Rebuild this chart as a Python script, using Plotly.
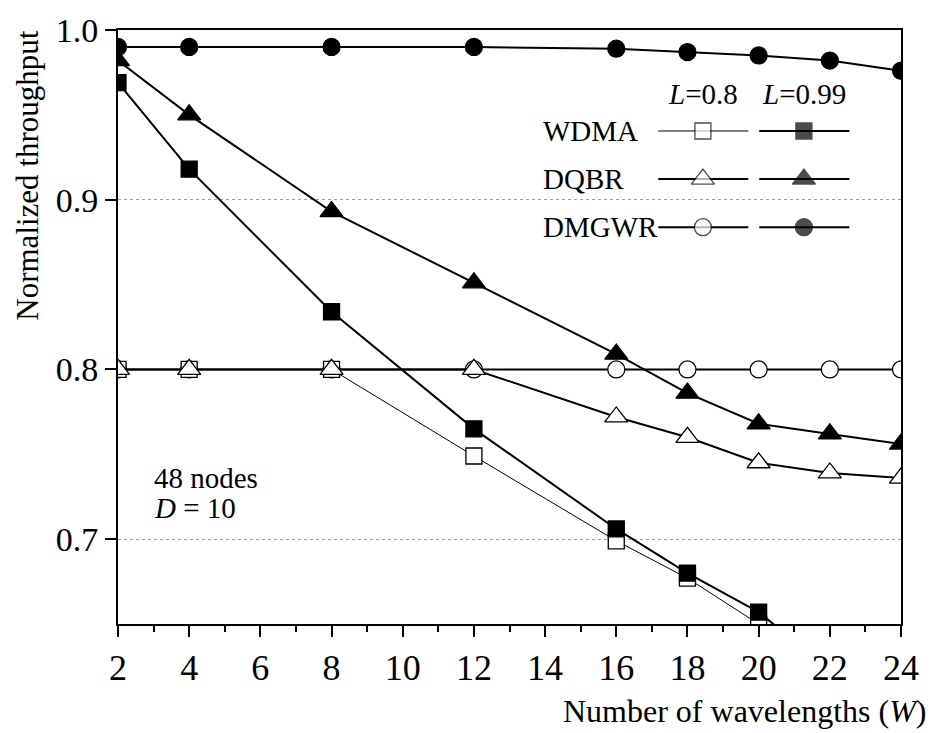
import plotly.graph_objects as go

# ---- data ----
W = [2, 4, 8, 12, 16, 18, 20, 22, 24]
wdma_08 = [0.800, 0.800, 0.800, 0.749, 0.699, 0.677, 0.650, 0.622, 0.595]
wdma_099 = [0.969, 0.918, 0.834, 0.765, 0.706, 0.680, 0.657, 0.623, 0.596]
dqbr_08 = [0.800, 0.800, 0.800, 0.800, 0.772, 0.760, 0.745, 0.739, 0.736]
dqbr_099 = [0.982, 0.950, 0.893, 0.851, 0.809, 0.786, 0.768, 0.762, 0.756]
dmgwr_08 = [0.800, 0.800, 0.800, 0.800, 0.800, 0.800, 0.800, 0.800, 0.800]
dmgwr_099 = [0.990, 0.990, 0.990, 0.990, 0.989, 0.987, 0.985, 0.982, 0.976]

x_ticks = [2, 4, 6, 8, 10, 12, 14, 16, 18, 20, 22, 24]
y_ticks = [0.7, 0.8, 0.9, 1.0]

legend_names = ["WDMA", "DQBR", "DMGWR"]
legend_headers = ["0.8", "0.99"]

FONT = "Liberation Serif"
BLACK = "black"

fig = go.Figure()

def series(y, symbol, filled, width, size):
    return go.Scatter(
        x=W, y=y, mode="lines+markers", showlegend=False,
        line=dict(color=BLACK, width=width),
        marker=dict(symbol=symbol, size=size,
                    color=BLACK if filled else "white",
                    line=dict(color=BLACK, width=1.3)),
    )

SZ = {"square": 16, "triangle-up": 20, "circle": 17}

# open markers (L=0.8)
fig.add_trace(series(dmgwr_08, "circle", False, 2, SZ["circle"]))
fig.add_trace(series(wdma_08, "square", False, 1, SZ["square"]))
fig.add_trace(series(dqbr_08, "triangle-up", False, 2, SZ["triangle-up"]))
# filled markers (L=0.99)
fig.add_trace(series(dmgwr_099, "circle", True, 2, SZ["circle"]))
fig.add_trace(series(dqbr_099, "triangle-up", True, 2, SZ["triangle-up"]))
fig.add_trace(series(wdma_099, "square", True, 2, SZ["square"]))

# ---- custom legend on overlay axes (0..1 over plot area) ----
leg_rows = [0.830, 0.749, 0.668]
col_open = [0.690, 0.747, 0.805]
col_fill = [0.819, 0.876, 0.934]
syms = ["square", "triangle-up", "circle"]
open_w = [1, 2, 2]
for i, name in enumerate(legend_names):
    yy = leg_rows[i]
    s = SZ[syms[i]]
    fig.add_trace(go.Scatter(
        x=col_open, y=[yy] * 3, xaxis="x2", yaxis="y2", mode="lines+markers",
        showlegend=False, line=dict(color=BLACK, width=open_w[i]),
        marker=dict(symbol=syms[i], size=[0, s, 0], color="white",
                    line=dict(color=BLACK, width=[0, 1.3, 0]))))
    fig.add_trace(go.Scatter(
        x=col_fill, y=[yy] * 3, xaxis="x2", yaxis="y2", mode="lines+markers",
        showlegend=False, line=dict(color=BLACK, width=2),
        marker=dict(symbol=syms[i], size=[0, s, 0], color=BLACK,
                    line=dict(color=BLACK, width=[0, 1.3, 0]))))
    fig.add_annotation(x=0.540, y=yy, xref="x2", yref="y2", text=name,
                       showarrow=False, xanchor="left", yanchor="middle",
                       font=dict(family=FONT, size=29, color=BLACK))

for cx, h in zip([col_open[1], col_fill[1]], legend_headers):
    fig.add_annotation(x=cx, y=0.893, xref="x2", yref="y2",
                       text="<i>L</i>=" + h, showarrow=False,
                       xanchor="center", yanchor="middle",
                       font=dict(family=FONT, size=29, color=BLACK))

fig.add_annotation(x=0.043, y=0.245, xref="x2", yref="y2", text="48 nodes",
                   showarrow=False, xanchor="left", yanchor="middle",
                   font=dict(family=FONT, size=29, color=BLACK))
fig.add_annotation(x=0.043, y=0.195, xref="x2", yref="y2", text="<i>D</i> = 10",
                   showarrow=False, xanchor="left", yanchor="middle",
                   font=dict(family=FONT, size=29, color=BLACK))

# axis titles
fig.add_annotation(x=1.035, y=-0.146, xref="paper", yref="paper",
                   text="Number of wavelengths (<i>W</i>)", showarrow=False,
                   xanchor="right", yanchor="middle",
                   font=dict(family=FONT, size=32, color=BLACK))
fig.add_annotation(x=-0.116, y=0.755, xref="paper", yref="paper",
                   text="Normalized throughput", showarrow=False, textangle=-90,
                   xanchor="center", yanchor="middle",
                   font=dict(family=FONT, size=31, color=BLACK))

fig.update_layout(
    width=931, height=733,
    margin=dict(l=118, r=22, t=22, b=109),
    paper_bgcolor="white", plot_bgcolor="white",
    font=dict(family=FONT, color=BLACK),
    xaxis=dict(range=[2, 24], tickvals=x_ticks, ticks="outside", ticklen=11,
               tickwidth=2, tickcolor=BLACK, showline=True, linewidth=2,
               linecolor=BLACK, mirror=True, showgrid=False, zeroline=False,
               tickfont=dict(family=FONT, size=36, color=BLACK),
               minor=dict(dtick=1, tick0=0, ticks="outside", ticklen=6,
                          tickwidth=2, tickcolor=BLACK, showgrid=False)),
    yaxis=dict(range=[0.65, 1.0], tickvals=y_ticks, tickformat=".1f",
               ticks="outside", ticklen=11, tickwidth=2, tickcolor=BLACK,
               showline=True, linewidth=2, linecolor=BLACK, mirror=True,
               showgrid=True, gridcolor="#a0a0a0", gridwidth=1, griddash="dot",
               zeroline=False,
               tickfont=dict(family=FONT, size=34, color=BLACK)),
    xaxis2=dict(range=[0, 1], overlaying="x", visible=False, fixedrange=True),
    yaxis2=dict(range=[0, 1], overlaying="y", visible=False, fixedrange=True),
)

fig.write_html("out.html")
